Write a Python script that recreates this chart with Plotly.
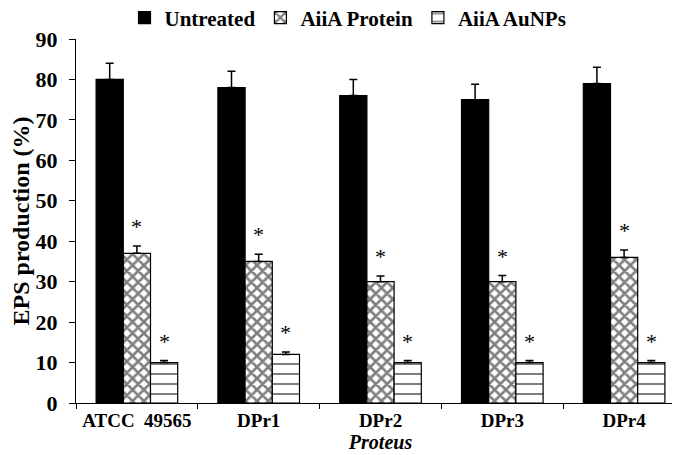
import plotly.graph_objects as go

categories = ["ATCC\u00a0\u00a049565", "DPr1", "DPr2", "DPr3", "DPr4"]
untreated = [80, 78, 76, 75, 79]
untreated_err = [4, 4, 4, 3.8, 4]
protein = [37, 35, 30, 30, 36]
protein_err = [1.8, 1.8, 1.4, 1.5, 1.8]
aunps = [10, 12, 10, 10, 10]
aunps_err = [0.5, 0.6, 0.5, 0.5, 0.5]
y_ticks = [0, 10, 20, 30, 40, 50, 60, 70, 80, 90]

FONT = "Liberation Serif"
bargap = 0.33
bw = (1 - bargap) / 3

def err(arr):
    return dict(type="data", symmetric=False, array=arr, arrayminus=[0] * len(arr),
                color="black", thickness=1.5, width=4)

fig = go.Figure()
fig.add_trace(go.Bar(name="<b>Untreated</b>", x=categories, y=untreated, error_y=err(untreated_err),
                     marker=dict(color="black", line=dict(color="black", width=1.2))))
fig.add_trace(go.Bar(name="<b>AiiA Protein</b>", x=categories, y=protein, error_y=err(protein_err),
                     marker=dict(color="white", line=dict(color="black", width=1.2),
                                 pattern=dict(shape="x", fgcolor="black", bgcolor="white",
                                              size=8, solidity=0.55))))
fig.add_trace(go.Bar(name="<b>AiiA AuNPs</b>", x=categories, y=aunps, error_y=err(aunps_err),
                     marker=dict(color="white", line=dict(color="black", width=1.2),
                                 pattern=dict(shape="-", fgcolor="black", bgcolor="white",
                                              size=10, solidity=0.2))))

# significance asterisks
for i in range(len(categories)):
    for vals, errs, off in ((protein, protein_err, 0.0), (aunps, aunps_err, bw)):
        fig.add_annotation(x=i + off, y=vals[i] + errs[i], xref="x", yref="y",
                           text="*", showarrow=False, yanchor="bottom", yshift=5,
                           font=dict(family=FONT, size=22, color="black"))

fig.update_layout(
    width=680, height=455,
    margin=dict(l=68, r=3, t=31, b=60, autoexpand=False),
    barmode="group", bargap=bargap, bargroupgap=0,
    plot_bgcolor="white", paper_bgcolor="white",
    font=dict(family=FONT, color="black"),
    showlegend=True,
    legend=dict(orientation="h", x=0.5, xanchor="center", xref="container",
                y=1.058, yanchor="middle", yref="paper",
                font=dict(family=FONT, size=21, color="black"),
                itemwidth=30, traceorder="normal", tracegroupgap=0),
    xaxis=dict(showline=True, linecolor="black", linewidth=1.2,
               ticks="outside", tickson="boundaries", ticklen=5, tickcolor="black",
               tickangle=0,
               tickfont=dict(family=FONT, size=19, color="black", weight="bold"),
               title=dict(text="<b><i>Proteus</i></b>", standoff=4,
                          font=dict(family=FONT, size=20, color="black")),
               showgrid=False),
    yaxis=dict(range=[0, 90], tickvals=y_ticks, showline=True, linecolor="black", linewidth=1.2,
               ticks="outside", ticklen=6, tickcolor="black", showgrid=False, zeroline=False,
               ticklabelstandoff=7,
               tickfont=dict(family=FONT, size=22, color="black", weight="bold"),
               title=dict(text="<b>EPS production (%)</b>", standoff=6,
                          font=dict(family=FONT, size=24, color="black"))),
)

fig.write_html("out.html")
